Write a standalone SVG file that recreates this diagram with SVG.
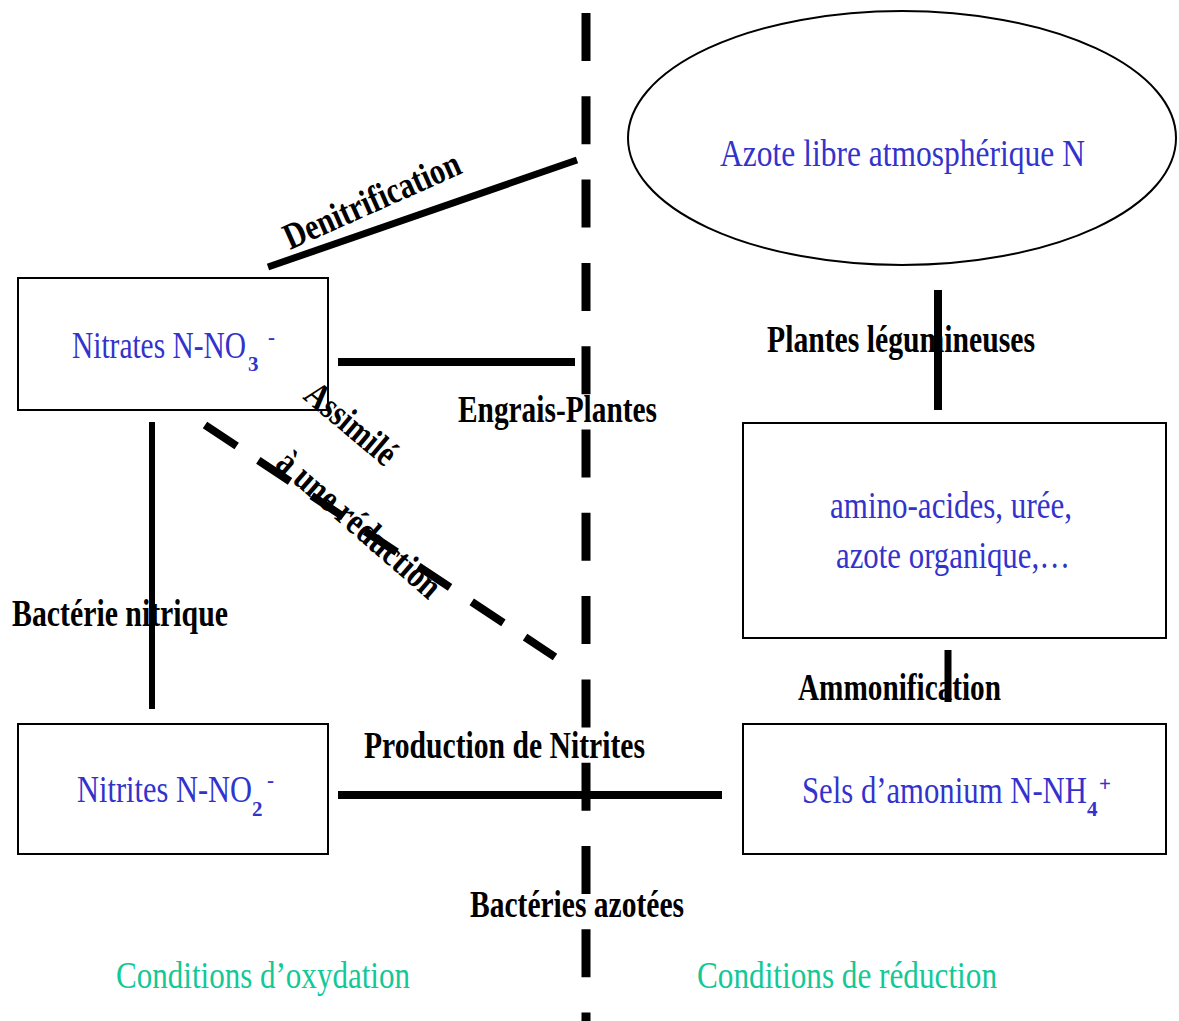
<svg xmlns="http://www.w3.org/2000/svg" width="1179" height="1021" viewBox="0 0 1179 1021">
<style>
.box{fill:#fff;stroke:#000;stroke-width:2}
.blue{font-family:"Liberation Serif",serif;font-size:37px;fill:#3333cc}
.sub{font-family:"Liberation Serif",serif;font-size:21px;font-weight:bold;fill:#3333cc}
.lab{font-family:"Liberation Serif",serif;font-size:37px;font-weight:bold;fill:#000}
.green{font-family:"Liberation Serif",serif;font-size:37px;fill:#12c896}
.ln{stroke:#000;fill:none}
</style>
<rect width="1179" height="1021" fill="#fff"/>
<g id="connectors">
<line class="ln" x1="586" y1="13" x2="586" y2="1021" stroke-width="9" stroke-dasharray="48 35.3"/>
<line class="ln" x1="268" y1="267" x2="577" y2="160" stroke-width="7"/>
<line class="ln" x1="338" y1="362" x2="575" y2="362" stroke-width="8"/>
<line class="ln" x1="152" y1="422" x2="152" y2="709" stroke-width="6"/>
<line class="ln" x1="205" y1="425" x2="555" y2="657" stroke-width="8" stroke-dasharray="38 26"/>
<line class="ln" x1="338" y1="795" x2="722" y2="795" stroke-width="8"/>
<line class="ln" x1="938" y1="290" x2="938" y2="410" stroke-width="8"/>
<line class="ln" x1="948" y1="650" x2="948" y2="702" stroke-width="7"/>
</g>
<g id="node-azote">
<ellipse class="box" cx="902" cy="138" rx="274" ry="127"/>
<text class="blue" x="720" y="166" textLength="365" lengthAdjust="spacingAndGlyphs">Azote libre atmosphérique N</text>
</g>
<g id="node-nitrates">
<rect class="box" x="18" y="278" width="310" height="132"/>
<text class="blue" x="72" y="358" textLength="174" lengthAdjust="spacingAndGlyphs">Nitrates N-NO</text>
<text class="sub" x="248" y="371">3</text>
<text class="sub" x="268" y="344" font-size="14">-</text>
</g>
<g id="node-nitrites">
<rect class="box" x="18" y="724" width="310" height="130"/>
<text class="blue" x="77" y="802" textLength="175" lengthAdjust="spacingAndGlyphs">Nitrites N-NO</text>
<text class="sub" x="252" y="816" font-weight="normal">2</text>
<text class="sub" x="267" y="787" font-size="14">-</text>
</g>
<g id="node-organique">
<rect class="box" x="743" y="423" width="423" height="215"/>
<text class="blue" x="830" y="518" textLength="242" lengthAdjust="spacingAndGlyphs">amino-acides, urée,</text>
<text class="blue" x="836" y="568" textLength="234" lengthAdjust="spacingAndGlyphs">azote organique,…</text>
</g>
<g id="node-ammonium">
<rect class="box" x="743" y="724" width="423" height="130"/>
<text class="blue" x="802" y="803" textLength="285" lengthAdjust="spacingAndGlyphs">Sels d’amonium N-NH</text>
<text class="sub" x="1087" y="816">4</text>
<text class="sub" x="1099" y="791">+</text>
</g>
<g id="labels">
<text class="lab" transform="translate(290,250) rotate(-24)" textLength="190" lengthAdjust="spacingAndGlyphs">Denitrification</text>
<text class="lab" x="458" y="422" textLength="199" lengthAdjust="spacingAndGlyphs">Engrais-Plantes</text>
<text class="lab" x="767" y="352" textLength="268" lengthAdjust="spacingAndGlyphs">Plantes légumineuses</text>
<text class="lab" x="798" y="700" textLength="203" lengthAdjust="spacingAndGlyphs">Ammonification</text>
<text class="lab" x="12" y="626" textLength="216" lengthAdjust="spacingAndGlyphs">Bactérie nitrique</text>
<text class="lab" x="364" y="758" textLength="281" lengthAdjust="spacingAndGlyphs">Production de Nitrites</text>
<text class="lab" x="470" y="917" textLength="214" lengthAdjust="spacingAndGlyphs">Bactéries azotées</text>
<text class="lab" transform="translate(302,398) rotate(40)" textLength="108" lengthAdjust="spacingAndGlyphs">Assimilé</text>
<text class="lab" transform="translate(274,466) rotate(41)" textLength="205" lengthAdjust="spacingAndGlyphs">à une réduction</text>
<text class="green" x="116" y="988" textLength="294" lengthAdjust="spacingAndGlyphs">Conditions d’oxydation</text>
<text class="green" x="697" y="988" textLength="300" lengthAdjust="spacingAndGlyphs">Conditions de réduction</text>
</g>
</svg>
